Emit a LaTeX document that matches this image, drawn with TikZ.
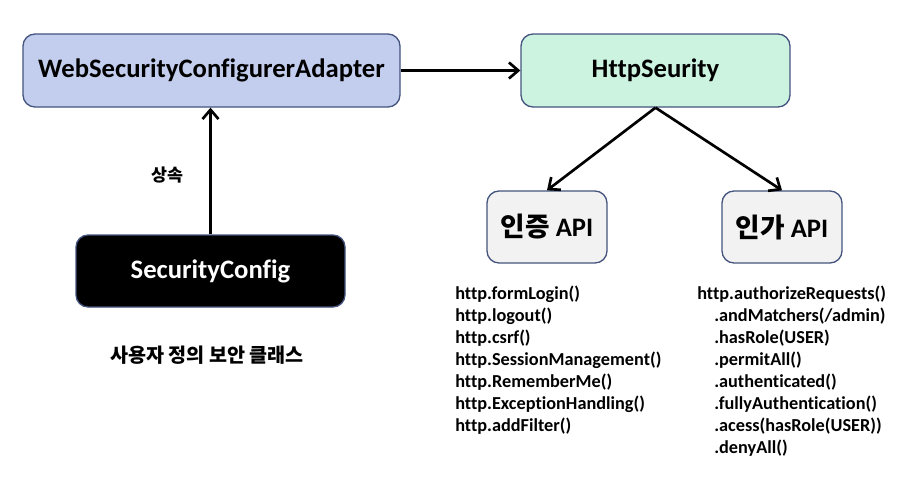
\documentclass[tikz,border=0pt]{standalone}
\usepackage{fontspec}
\setmainfont{Carlito}[Ligatures=NoCommon]
\newfontfamily\kr{Noto Sans CJK KR}
\usetikzlibrary{arrows.meta, positioning}
\definecolor{adapterblue}{RGB}{195,206,238}
\definecolor{httpgreen}{RGB}{204,242,224}
\definecolor{apigray}{RGB}{242,242,242}
\definecolor{boxborder}{RGB}{68,84,126}
\newcommand{\codeindent}{\hspace*{12.75pt}}
\tikzset{box/.style={rectangle,draw=boxborder,line width=1pt,rounded corners=9pt,align=center,font=\fontsize{20}{24}\selectfont\bfseries,minimum height=54.75pt},line/.style={-{Straight Barb[length=7pt,width=12pt]},line width=2pt},code/.style={align=left,anchor=north west,inner sep=0pt,font=\fontsize{13.7}{16.5}\selectfont\bfseries},caption/.style={font=\kr\bfseries}}

\begin{document}
\begin{tikzpicture}[x=0.75pt,y=-0.75pt]
\useasboundingbox (0,0) rectangle (916,478);
\node[box, fill=adapterblue, minimum width=282.75pt] (adapter) at (211.5,70.5) {WebSecurityConfigurerAdapter};
\node[box, fill=httpgreen, minimum width=201.75pt] (httpsec) at (655.5,70.5) {HttpSeurity};
\node[box, fill=apigray, minimum width=90pt, minimum height=54pt] (authn) at (547,227) {{\kr 인증} API};
\node[box, fill=apigray, minimum width=90pt, minimum height=54pt] (authz) at (782,227) {{\kr 인가} API};
\node[box, fill=black, text=white, minimum width=201.75pt, minimum height=54pt] (config) at (210.5,271) {SecurityConfig};
\node[caption, font=\kr\bfseries\fontsize{13}{15}\selectfont] (inherit) at (167,175) {상속};
\node[caption, font=\kr\bfseries\fontsize{14.7}{17}\selectfont] (userclass) at (207,355) {사용자 정의 보안 클래스};
\node[code] (authncode) at (455,286) {http.formLogin()\\http.logout()\\http.csrf()\\http.SessionManagement()\\http.RememberMe()\\http.ExceptionHandling()\\http.addFilter()};
\node[code] (authzcode) at (697,286) {http.authorizeRequests()\\\codeindent.andMatchers(/admin)\\\codeindent.hasRole(USER)\\\codeindent.permitAll()\\\codeindent.authenticated()\\\codeindent.fullyAuthentication()\\\codeindent.acess(hasRole(USER))\\\codeindent.denyAll()};
\draw[line] (adapter) -- (httpsec);
\draw[line] (config.north) -- (config.north |- adapter.south);
\draw[line] (httpsec.south) -- (authn.north);
\draw[line] (httpsec.south) -- (authz.north);
\end{tikzpicture}
\end{document}
